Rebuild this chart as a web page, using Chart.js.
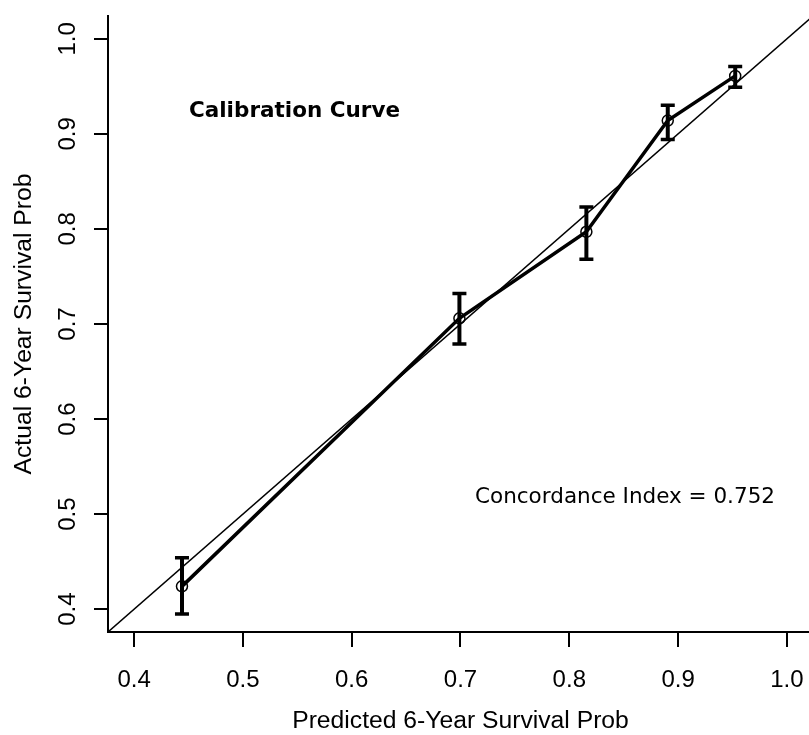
<!DOCTYPE html>
<html>
<head>
<meta charset="utf-8">
<script src="https://cdn.jsdelivr.net/npm/chart.js@4.4.1/dist/chart.umd.min.js"></script>
<style>
  html, body { margin: 0; padding: 0; background: #fff; overflow: hidden; }
  #wrap { width: 809px; height: 735px; overflow: hidden; position: relative; }
  canvas { display: block; }
</style>
</head>
<body>
<div id="wrap"><canvas id="c" width="830" height="735"></canvas></div>
<script>
// ---- data ----
const predicted = [0.444, 0.699, 0.8157, 0.8905, 0.9525];
const observed  = [0.424, 0.706, 0.797, 0.914, 0.961];
const lowerCI   = [0.395, 0.679, 0.768, 0.894, 0.949];
const upperCI   = [0.454, 0.732, 0.823, 0.930, 0.971];
const idealX    = [0.376, 1.024];
const idealY    = [0.376, 1.024];
const xTicks    = [0.4, 0.5, 0.6, 0.7, 0.8, 0.9, 1.0];
const yTicks    = [0.4, 0.5, 0.6, 0.7, 0.8, 0.9, 1.0];
const tickLabels = ['0.4', '0.5', '0.6', '0.7', '0.8', '0.9', '1.0'];
const axisMin = 0.376, axisMax = 1.024;
const xTitle = 'Predicted 6-Year Survival Prob';
const yTitle = 'Actual 6-Year Survival Prob';
const plotTitle = 'Calibration Curve';
const cIndexText = 'Concordance Index = 0.752';
const plotTitlePos = [0.5474, 0.9177];
const cIndexPos = [0.8512, 0.512];

Chart.defaults.color = '#000';
const axisFont = { family: '"Liberation Sans", Arial, sans-serif', size: 24 };
const titleFont = { family: '"Liberation Sans", Arial, sans-serif', size: 24.7, lineHeight: 1 };

const errorBars = {
  id: 'errorBars',
  afterDatasetsDraw(chart) {
    const { ctx, scales: { x, y } } = chart;
    ctx.save();
    ctx.strokeStyle = '#000';
    ctx.lineCap = 'butt';
    predicted.forEach((p, i) => {
      const px = x.getPixelForValue(p);
      const yl = y.getPixelForValue(lowerCI[i]);
      const yu = y.getPixelForValue(upperCI[i]);
      ctx.lineWidth = 4;
      ctx.beginPath(); ctx.moveTo(px, yl); ctx.lineTo(px, yu); ctx.stroke();
      ctx.lineWidth = 3.5;
      ctx.beginPath();
      ctx.moveTo(px - 7, yl); ctx.lineTo(px + 7, yl);
      ctx.moveTo(px - 7, yu); ctx.lineTo(px + 7, yu);
      ctx.stroke();
    });
    ctx.restore();
  }
};

const annotations = {
  id: 'annotations',
  afterDraw(chart) {
    const { ctx, scales: { x, y } } = chart;
    ctx.save();
    ctx.fillStyle = '#000';
    ctx.textAlign = 'center';
    ctx.textBaseline = 'alphabetic';
    ctx.font = 'bold 21.5px "DejaVu Sans"';
    ctx.fillText(plotTitle, x.getPixelForValue(plotTitlePos[0]), y.getPixelForValue(plotTitlePos[1]));
    ctx.font = '21.5px "DejaVu Sans"';
    ctx.fillText(cIndexText, x.getPixelForValue(cIndexPos[0]), y.getPixelForValue(cIndexPos[1]));
    ctx.restore();
  }
};

function zeroPad(scale) {
  scale.paddingLeft = 0; scale.paddingRight = 0;
  scale.paddingTop = 0; scale.paddingBottom = 0;
}

new Chart(document.getElementById('c'), {
  type: 'scatter',
  data: {
    datasets: [
      {
        label: 'Ideal',
        data: idealX.map((v, i) => ({ x: v, y: idealY[i] })),
        showLine: true,
        borderColor: '#000',
        borderWidth: 1.5,
        pointRadius: 0,
        fill: false
      },
      {
        label: 'Calibration',
        data: predicted.map((v, i) => ({ x: v, y: observed[i] })),
        showLine: true,
        tension: 0,
        borderColor: '#000',
        borderWidth: 3.5,
        pointRadius: 5.5,
        pointBorderWidth: 1.5,
        pointBorderColor: '#000',
        pointBackgroundColor: 'rgba(0,0,0,0)',
        fill: false
      }
    ]
  },
  options: {
    responsive: false,
    animation: false,
    devicePixelRatio: 1,
    layout: { padding: { left: 0, top: 16, right: 17, bottom: 0 } },
    plugins: { legend: { display: false }, tooltip: { enabled: false } },
    scales: {
      x: {
        type: 'linear',
        min: axisMin, max: axisMax,
        afterBuildTicks(s) { s.ticks = xTicks.map(v => ({ value: v })); },
        afterFit(s) { s.height = 103; zeroPad(s); },
        ticks: {
          font: axisFont, color: '#000', padding: 18.6, maxRotation: 0, minRotation: 0,
          callback: (v, i) => tickLabels[i]
        },
        grid: { drawOnChartArea: false, drawTicks: true, tickLength: 15, color: '#000', lineWidth: 2 },
        border: { display: true, color: '#000', width: 2 },
        title: {
          display: true, text: xTitle, color: '#000',
          font: titleFont,
          padding: { top: 0, bottom: 1 }
        }
      },
      y: {
        type: 'linear',
        min: axisMin, max: axisMax,
        afterBuildTicks(s) { s.ticks = yTicks.map(v => ({ value: v })); },
        afterFit(s) { s.width = 108; zeroPad(s); },
        ticks: {
          font: axisFont, color: '#000', padding: 9.3, minRotation: 90, maxRotation: 90,
          crossAlign: 'center',
          callback: (v, i) => tickLabels[i]
        },
        grid: { drawOnChartArea: false, drawTicks: true, tickLength: 14, color: '#000', lineWidth: 2 },
        border: { display: true, color: '#000', width: 2 },
        title: {
          display: true, text: yTitle, color: '#000',
          font: titleFont,
          padding: { top: 11.7, bottom: 0 }
        }
      }
    }
  },
  plugins: [errorBars, annotations]
});
</script>
</body>
</html>
